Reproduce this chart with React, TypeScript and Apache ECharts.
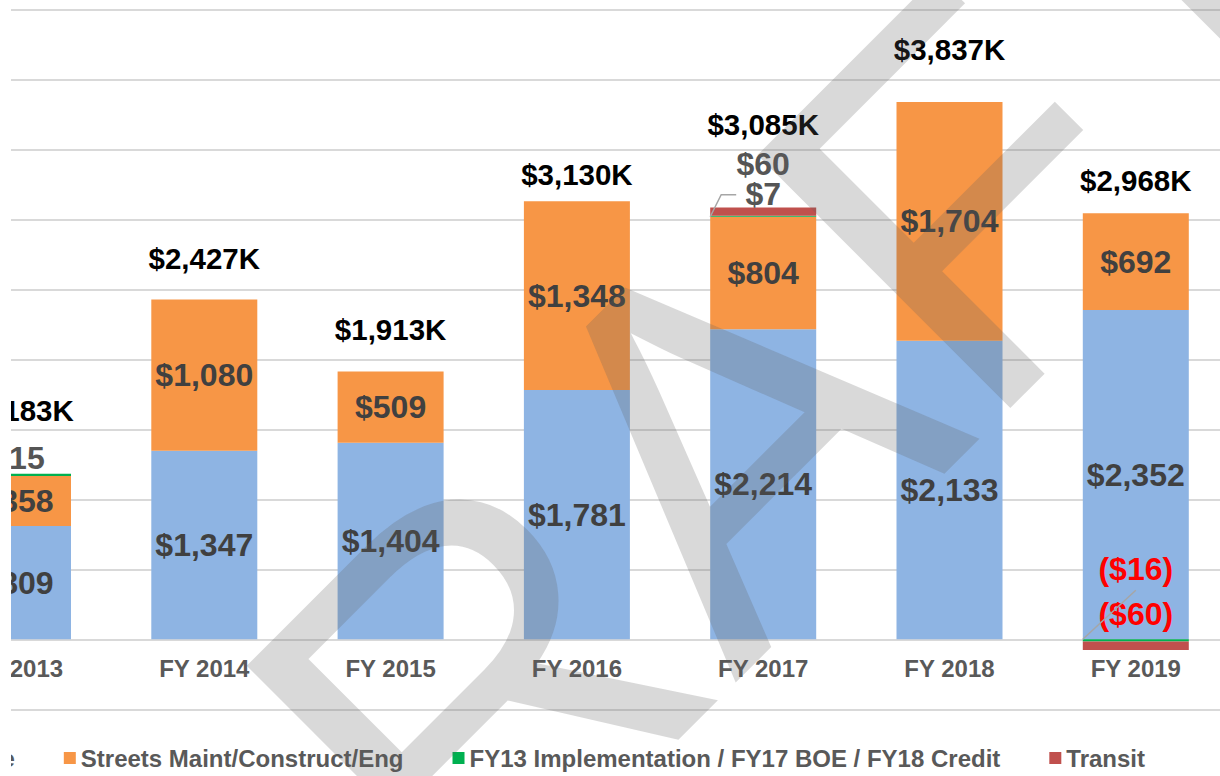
import React, { useEffect, useRef } from "react";
import * as echarts from "echarts";

const categories = ["FY 2013", "FY 2014", "FY 2015", "FY 2016", "FY 2017", "FY 2018", "FY 2019"];
const parkingValues = [809, 1347, 1404, 1781, 2214, 2133, 2352];
const streetsValues = [358, 1080, 509, 1348, 804, 1704, 692];
const fy13Values = [15, 0, 0, 0, 7, 0, -16];
const transitValues = [0, 0, 0, 0, 60, 0, -60];
const totalValues = [1183, 2427, 1913, 3130, 3085, 3837, 2968];
const seriesNames = [
  "Parking Revenue",
  "Streets Maint/Construct/Eng",
  "FY13 Implementation / FY17 BOE / FY18 Credit",
  "Transit",
];

// label styling offsets (pixels)
const greenLabelDy = [-17, 0, 0, 0, -22, 0, -71];
const redLabelDy = [0, 0, 0, 0, -48, 0, -32];
const totalLabelDy = [-63, -41, -42, -27, -83, -53, -43];

const money = (v: number) => {
  if (!v) return "";
  const s = "$" + Math.abs(v).toLocaleString("en-US");
  return v < 0 ? "(" + s + ")" : s;
};

export default function App() {
  const ref = useRef<HTMLDivElement>(null);
  useEffect(() => {
    if (!ref.current) return;
    const chart = echarts.init(ref.current, null, { renderer: "svg" });
    const FONT = '"Liberation Sans", Arial, sans-serif';
    const inLabel = {
      show: true,
      position: "inside",
      fontFamily: FONT,
      fontWeight: "bold",
      fontSize: 32,
      color: "#404040",
      formatter: (p: any) => money(p.value),
    };
    const option: any = {
      animation: false,
      grid: { left: 224.85, right: 11.05, top: 9.3, bottom: 66.7 },
      legend: {
        data: seriesNames,
        right: 95,
        top: 746,
        padding: 0,
        itemWidth: 12,
        itemHeight: 12,
        itemGap: 49,
        icon: "rect",
        textStyle: { fontFamily: FONT, fontWeight: "bold", fontSize: 24, color: "#595959" },
      },
      xAxis: {
        type: "category",
        data: categories,
        position: "bottom",
        offset: -70,
        axisLine: { show: true, onZero: false, lineStyle: { color: "#d9d9d9", width: 2 } },
        axisTick: { show: false },
        axisLabel: { fontFamily: FONT, fontWeight: "bold", fontSize: 24, color: "#595959", margin: 17 },
      },
      yAxis: {
        type: "value",
        min: -500,
        max: 4500,
        interval: 500,
        axisLabel: { show: false },
        axisLine: { show: false },
        axisTick: { show: false },
        splitLine: { lineStyle: { color: "#d9d9d9", width: 2 } },
      },
      series: [
        {
          name: seriesNames[0],
          type: "bar",
          stack: "t",
          barWidth: 106,
          itemStyle: { color: "#8eb4e3" },
          label: inLabel,
          data: parkingValues,
        },
        {
          name: seriesNames[1],
          type: "bar",
          stack: "t",
          itemStyle: { color: "#f79646" },
          label: inLabel,
          data: streetsValues,
        },
        {
          name: seriesNames[2],
          type: "bar",
          stack: "t",
          itemStyle: { color: "#00b050" },
          label: inLabel,
          data: fy13Values.map((v, i) => ({
            value: v,
            label: { offset: [0, greenLabelDy[i]], color: v < 0 ? "#ff0000" : "#555555" },
          })),
        },
        {
          name: seriesNames[3],
          type: "bar",
          stack: "t",
          itemStyle: { color: "#c0504d" },
          label: inLabel,
          data: transitValues.map((v, i) => ({
            value: v,
            label: { offset: [0, redLabelDy[i]], color: v < 0 ? "#ff0000" : "#555555" },
          })),
        },
        {
          name: "Total",
          type: "scatter",
          symbolSize: 1,
          itemStyle: { color: "rgba(0,0,0,0)" },
          z: 5,
          data: totalValues.map((v, i) => ({
            value: v,
            label: { offset: [0, totalLabelDy[i]] },
          })),
          label: {
            show: true,
            position: "inside",
            fontFamily: FONT,
            fontWeight: "bold",
            fontSize: 29.5,
            color: "#000000",
            textBorderWidth: 0,
            opacity: 1,
            formatter: (p: any) => "$" + p.value.toLocaleString("en-US") + "K",
          },
        },
      ],
    };
    chart.setOption(option);

    const px = (i: number, v: number) =>
      chart.convertToPixel({ xAxisIndex: 0, yAxisIndex: 0 }, [i, v]) as number[];
    const half = 53;
    const lines: any[] = [];
    {
      const i = 4;
      const base = parkingValues[i] + streetsValues[i];
      const p = px(i, base);
      const l = p[0] - half;
      lines.push({
        type: "polyline",
        z: 50,
        silent: true,
        shape: { points: [[l, p[1]], [l + 11, p[1] - 22], [l + 26, p[1] - 22]] },
        style: { stroke: "#a6a6a6", lineWidth: 1.5, fill: "none" },
      });
    }
    {
      const i = 6;
      const p = px(i, 0);
      const l = p[0] - half;
      lines.push({
        type: "line",
        z: 50,
        silent: true,
        shape: { x1: l, y1: p[1], x2: p[0], y2: p[1] - 49 },
        style: { stroke: "#a6a6a6", lineWidth: 1.5 },
      });
    }
    chart.setOption({
      graphic: [
        {
          type: "text",
          x: 989,
          y: 474,
          rotation: Math.PI / 4,
          z: 100,
          silent: true,
          style: {
            text: "DRAFT",
            font: '520px "Liberation Sans", Arial, sans-serif',
            fill: "rgba(96,96,96,0.24)",
            textAlign: "center",
            textVerticalAlign: "middle",
            align: "center",
            verticalAlign: "middle",
          },
        },
        ...lines,
      ],
    });
    return () => chart.dispose();
  }, []);

  return (
    <div
      style={{
        position: "absolute",
        left: 11,
        top: 0,
        width: 1209,
        height: 776,
        overflow: "hidden",
        background: "#fff",
      }}
    >
      <div ref={ref} style={{ position: "absolute", left: -311, top: 0, width: 1540, height: 776 }} />
    </div>
  );
}
